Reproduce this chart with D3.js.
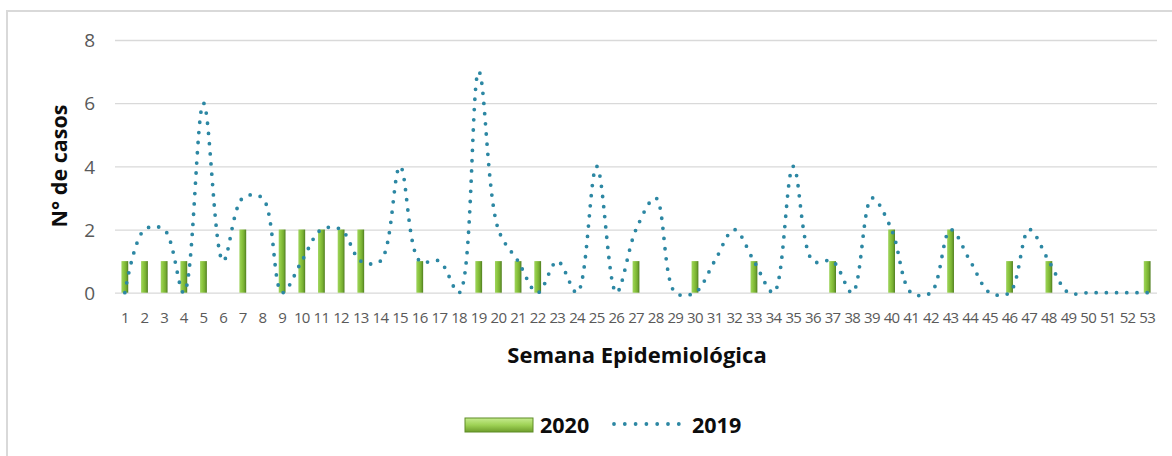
<!DOCTYPE html>
<html>
<head>
<meta charset="utf-8">
<script src="https://cdn.jsdelivr.net/npm/d3@7/dist/d3.min.js"></script>
<style>
  body { margin: 0; background: #fff; }
  svg { display: block; font-family: "Open Sans", "Noto Sans", sans-serif; }
</style>
</head>
<body>
<svg id="chart" width="1172" height="456"></svg>
<script>
// semanas epidemiológicas 1..53
const weeks = d3.range(1, 54);
const cases2020 = [1,1,1,1,1,0,2,0,2,2, 2,2,2,0,0,1,0,0,1,1, 1,1,0,0,0,0,1,0,0,1, 0,0,1,0,0,0,1,0,0,2, 0,0,2,0,0,1,0,1,0,0, 0,0,1];
const cases2019 = [0,2,2,0,6,1,3,3,0,1, 2,2,1,1,4,1,1,0,7,2, 1,0,1,0,4,0,2,3,0,0, 1,2,1,0,4,1,1,0,3,2, 0,0,2,1,0,0,2,1,0,0, 0,0,0];
const yTicks = [0, 2, 4, 6, 8];

const svg = d3.select("#chart");
const margin = { left: 115, right: 1157, top: 40, bottom: 292.7 };

const x = d3.scaleBand().domain(weeks).range([margin.left, margin.right]);
const y = d3.scaleLinear().domain([0, 8]).range([margin.bottom, margin.top]);

// outer chart border
svg.append("path")
  .attr("d", "M7,460 V11 H1180")
  .attr("fill", "none")
  .attr("stroke", "#d9d9d9")
  .attr("stroke-width", 2);

// gradients for the bars
const defs = svg.append("defs");
const grad = defs.append("linearGradient").attr("id", "barGrad")
  .attr("x1", 0).attr("x2", 1).attr("y1", 0).attr("y2", 0);
grad.append("stop").attr("offset", "0%").attr("stop-color", "#9fd45f");
grad.append("stop").attr("offset", "35%").attr("stop-color", "#8cc63f");
grad.append("stop").attr("offset", "70%").attr("stop-color", "#76ad32");
grad.append("stop").attr("offset", "100%").attr("stop-color", "#4f7d1f");

const legGrad = defs.append("linearGradient").attr("id", "legGrad")
  .attr("x1", 0).attr("x2", 0).attr("y1", 0).attr("y2", 1);
legGrad.append("stop").attr("offset", "0%").attr("stop-color", "#c6eb8f");
legGrad.append("stop").attr("offset", "50%").attr("stop-color", "#9ed255");
legGrad.append("stop").attr("offset", "100%").attr("stop-color", "#6e9d2c");

// gridlines + y labels
const yAxis = d3.axisLeft(y).tickValues(yTicks).tickSize(-(margin.right - margin.left)).tickPadding(20);
const gy = svg.append("g").attr("transform", `translate(${margin.left},0)`).call(yAxis);
gy.select(".domain").remove();
gy.selectAll(".tick line").attr("stroke", "#d9d9d9").attr("stroke-width", 1.3);
gy.selectAll(".tick text").attr("fill", "#595959").attr("font-size", 19)
  .attr("font-family", "Open Sans, sans-serif").attr("dy", "0.35em");

// x labels
const xAxis = d3.axisBottom(x).tickSize(0).tickPadding(20);
const gx = svg.append("g").attr("transform", `translate(0,${margin.bottom})`).call(xAxis);
gx.select(".domain").remove();
gx.selectAll(".tick text").attr("fill", "#595959").attr("font-size", 15)
  .attr("font-family", "Open Sans, sans-serif").attr("letter-spacing", -0.7);

// bars 2020
const bw = 6.8;
svg.append("g").selectAll("rect").data(weeks.filter((w, i) => cases2020[i] > 0))
  .enter().append("rect")
  .attr("x", d => x(d) + x.bandwidth() / 2 - bw / 2)
  .attr("y", d => y(cases2020[d - 1]))
  .attr("width", bw)
  .attr("height", d => y(0) - y(cases2020[d - 1]))
  .attr("fill", "url(#barGrad)");

// line 2019
const line = d3.line()
  .x((d, i) => x(weeks[i]) + x.bandwidth() / 2)
  .y(d => y(d))
  .curve(d3.curveCatmullRom.alpha(0.5));

svg.append("path")
  .datum(cases2019)
  .attr("d", line)
  .attr("fill", "none")
  .attr("stroke", "#2c87a3")
  .attr("stroke-width", 3.8)
  .attr("stroke-linecap", "round")
  .attr("stroke-dasharray", "0 10.2");

// axis titles
svg.append("text")
  .attr("transform", `translate(67,166) rotate(-90)`)
  .attr("text-anchor", "middle")
  .attr("font-size", 21.5).attr("font-weight", "bold").attr("fill", "#0d0d0d")
  .text("N° de casos");

svg.append("text")
  .attr("x", 637).attr("y", 363)
  .attr("text-anchor", "middle")
  .attr("font-size", 22).attr("font-weight", "bold").attr("fill", "#0d0d0d")
  .text("Semana Epidemiológica");

// legend
const leg = svg.append("g");
leg.append("rect").attr("x", 465).attr("y", 418).attr("width", 68).attr("height", 14)
  .attr("fill", "url(#legGrad)").attr("stroke", "#5e8c26").attr("stroke-width", 1);
leg.append("text").attr("x", 540).attr("y", 433)
  .attr("font-size", 21.5).attr("font-weight", "bold").attr("fill", "#0d0d0d").text("2020");
leg.append("line").attr("x1", 614).attr("x2", 680).attr("y1", 424).attr("y2", 424)
  .attr("stroke", "#2c87a3").attr("stroke-width", 3.8)
  .attr("stroke-linecap", "round").attr("stroke-dasharray", "0 10.8");
leg.append("text").attr("x", 692).attr("y", 433)
  .attr("font-size", 21.5).attr("font-weight", "bold").attr("fill", "#0d0d0d").text("2019");
</script>
</body>
</html>
